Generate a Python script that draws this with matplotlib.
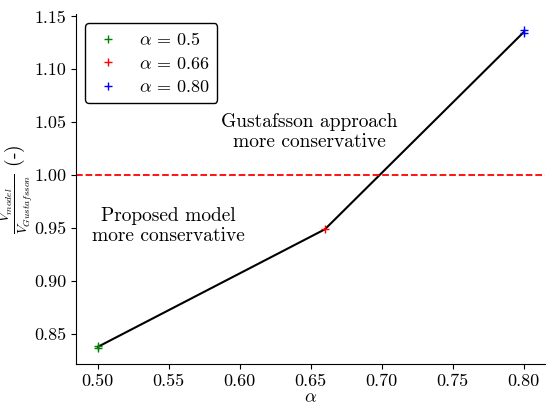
import numpy as np
import matplotlib
matplotlib.use("Agg")
import matplotlib.pyplot as plt

plt.rcParams["font.family"] = "serif"
plt.rcParams["font.serif"] = ["cmr10", "DejaVu Serif"]
plt.rcParams["mathtext.fontset"] = "cm"
plt.rcParams["axes.formatter.use_mathtext"] = True
plt.rcParams["font.size"] = 13

# ratio V_model / V_Gustafsson per alpha
alpha_green = [0.5, 0.5]
ratio_green = [0.837, 0.839]
alpha_red = [0.66]
ratio_red = [0.949]
alpha_blue = [0.80, 0.80]
ratio_blue = [1.134, 1.137]

line_alpha = [0.5, 0.66, 0.80]
line_ratio = [0.838, 0.949, 1.135]

fig = plt.figure(figsize=(5.46, 4.07), dpi=100)
ax = fig.add_subplot(111)
ax.plot(line_alpha, line_ratio, color='k', lw=1.5, zorder=1)
ax.plot(alpha_green, ratio_green, '+', color='green', ms=6, label=r'$\alpha\,=\,0.5$')
ax.plot(alpha_red, ratio_red, '+', color='red', ms=6, label=r'$\alpha\,=\,0.66$')
ax.plot(alpha_blue, ratio_blue, '+', color='blue', ms=6, label=r'$\alpha\,=\,0.80$')
ax.axhline(1.0, color='red', ls='--', lw=1.3)

ax.text(0.649, 1.041, "Gustafsson approach\nmore conservative", ha='center', va='center',
        fontsize=14, linespacing=1.15)
ax.text(0.55, 0.952, "Proposed model\nmore conservative", ha='center', va='center',
        fontsize=14, linespacing=1.15)

ax.spines['top'].set_visible(False)
ax.spines['right'].set_visible(False)
ax.set_xticks([0.50, 0.55, 0.60, 0.65, 0.70, 0.75, 0.80])
ax.set_yticks([0.85, 0.90, 0.95, 1.00, 1.05, 1.10, 1.15])
ax.set_xticklabels(["0.50", "0.55", "0.60", "0.65", "0.70", "0.75", "0.80"])
ax.set_yticklabels(["0.85", "0.90", "0.95", "1.00", "1.05", "1.10", "1.15"])
ax.tick_params(labelsize=13)
ax.set_xlabel(r'$\alpha$', labelpad=1)
ax.set_ylabel(r'$\frac{V_{model}}{V_{Gustafsson}}$ (-)', fontsize=14)
ax.yaxis.set_label_coords(-0.088, 0.5)

leg = ax.legend(loc='upper left', numpoints=1, edgecolor='k', framealpha=1,
                handlelength=1.6, handletextpad=0.9, borderpad=0.45,
                labelspacing=0.4, fontsize=13)
leg.get_frame().set_linewidth(1.0)

fig.subplots_adjust(left=0.14, right=0.998, top=0.965, bottom=0.106)
plt.savefig("out.png", dpi=100)
